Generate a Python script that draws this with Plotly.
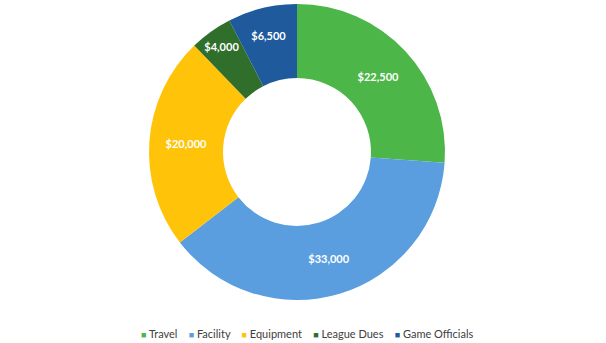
import plotly.graph_objects as go

categories = ["Travel", "Facility", "Equipment", "League Dues", "Game Officials"]
values = [22500, 33000, 20000, 4000, 6500]
colors = ["#4CB648", "#5A9EDF", "#FFC40A", "#2F6E2B", "#1E5A9C"]

W, H = 606, 343
cx, cy, R = 297, 152, 148

fig = go.Figure(go.Pie(
    labels=categories,
    values=values,
    hole=0.5,
    sort=False,
    direction="clockwise",
    rotation=0,
    marker=dict(colors=colors, line=dict(width=0)),
    texttemplate="$%{value:,}",
    textposition="inside",
    insidetextorientation="horizontal",
    textfont=dict(color="white", size=11, family="Lato", weight="bold"),
    domain=dict(x=[(cx - R) / W, (cx + R) / W], y=[1 - (cy + R) / H, 1 - (cy - R) / H]),
    hoverinfo="label+value",
    showlegend=False,
))

gap = "\u00a0" * 4
legend_text = gap.join(
    f'<span style="color:{c};font-size:9px">■</span>\u00a0{lab}'
    for lab, c in zip(categories, colors)
)

fig.add_annotation(
    x=307 / W, y=1 - 333 / H, xref="paper", yref="paper",
    xanchor="center", yanchor="middle",
    text=legend_text, showarrow=False,
    font=dict(size=11, color="#404040", family="Lato"),
)

fig.update_layout(
    width=W, height=H,
    margin=dict(l=0, r=0, t=0, b=0),
    paper_bgcolor="white",
    plot_bgcolor="white",
)

fig.write_html("out.html")
